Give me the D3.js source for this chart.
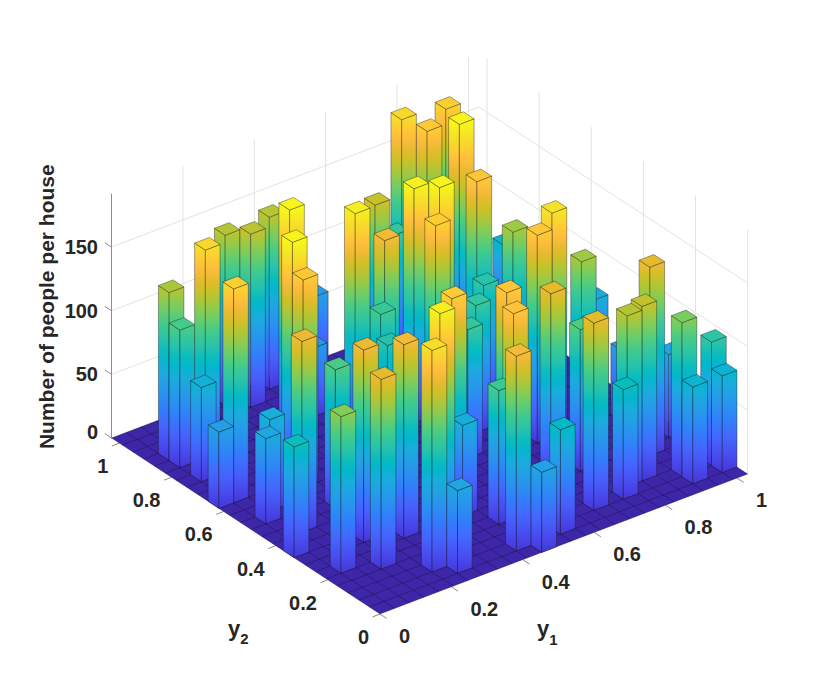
<!DOCTYPE html>
<html>
<head>
<meta charset="utf-8">
<script src="https://cdn.jsdelivr.net/npm/d3@7"></script>
<style>
  body { margin: 0; background: #fff; }
  text { font-family: "Liberation Sans", Arial, Helvetica, sans-serif; font-weight: bold; fill: #262626; }
</style>
</head>
<body>
<script>
// houses on a 25 x 25 grid: cell index along y1, cell index along y2, people in the house
var cellY1 = [1, 1, 1, 0, 2, 7, 8, 10, 1, 7, 5, 5, 2, 13, 10, 2, 1, 0,
              5, 1, 4, 3, 10, 6, 5, 7, 10, 11, 6, 11, 13, 12, 10, 10, 16, 14,
              20, 18, 19, 21, 16, 13, 11, 16, 18, 19, 20, 22, 22, 24, 22, 24, 24, 18, 23, 18, 24, 23,
              19, 20, 22, 20, 19, 14, 15, 10, 15, 12, 14, 17];
var cellY2 = [21, 20, 18, 15, 19, 24, 23, 24, 15, 18, 15, 14, 10, 24, 20, 13, 12, 8,
              11, 5, 7, 4, 13, 6, 2, 4, 7, 15, 1, 4, 6, 4, 1, 6, 13, 11,
              15, 10, 10, 10, 6, 1, 0, 2, 6, 3, 3, 5, 2, 2, 1, 1, 6, 2, 20, 15, 13, 9,
              24, 23, 24, 20, 17, 16, 15, 16, 21, 16, 14, 22];
var people = [132, 108, 74, 60, 172, 134, 136, 135, 168, 187, 187, 163, 150, 59, 54, 72, 67, 87,
              109, 123, 151, 149, 95, 152, 174, 183, 165, 104, 65, 105, 162, 161, 153, 71, 100, 101,
              129, 163, 176, 129, 148, 82, 63, 147, 111, 134, 137, 148, 121, 97, 76, 76, 65, 86, 78, 96, 69, 56,
              172, 164, 167, 186, 162, 184, 186, 182, 139, 152, 166, 101];

var y1Ticks = [0, 0.2, 0.4, 0.6, 0.8, 1];
var y2Ticks = [0, 0.2, 0.4, 0.6, 0.8, 1];
var zTicks = [0, 50, 100, 150];
var tickFormat = d3.format("~g");

var gridN = 25, gridMax = 1.03, zMax = 192, cMax = 190;

// parula colormap (64 entries)
var parula = [
[0.2422,0.1504,0.6603],[0.2504,0.1650,0.7076],[0.2578,0.1818,0.7511],[0.2647,0.1978,0.7952],
[0.2706,0.2147,0.8364],[0.2751,0.2342,0.8710],[0.2783,0.2559,0.8991],[0.2803,0.2782,0.9221],
[0.2813,0.3006,0.9414],[0.2810,0.3228,0.9579],[0.2795,0.3447,0.9717],[0.2760,0.3667,0.9829],
[0.2699,0.3892,0.9906],[0.2602,0.4123,0.9952],[0.2440,0.4358,0.9988],[0.2206,0.4603,0.9973],
[0.1963,0.4847,0.9892],[0.1834,0.5074,0.9798],[0.1786,0.5289,0.9682],[0.1764,0.5499,0.9520],
[0.1687,0.5703,0.9359],[0.1540,0.5902,0.9218],[0.1460,0.6091,0.9079],[0.1380,0.6276,0.8973],
[0.1248,0.6459,0.8883],[0.1113,0.6635,0.8763],[0.0952,0.6798,0.8598],[0.0689,0.6948,0.8394],
[0.0297,0.7082,0.8163],[0.0036,0.7203,0.7917],[0.0067,0.7312,0.7660],[0.0433,0.7411,0.7394],
[0.0964,0.7500,0.7120],[0.1408,0.7584,0.6842],[0.1717,0.7670,0.6554],[0.1938,0.7758,0.6251],
[0.2161,0.7843,0.5923],[0.2470,0.7918,0.5567],[0.2906,0.7973,0.5188],[0.3406,0.8008,0.4789],
[0.3909,0.8029,0.4354],[0.4456,0.8024,0.3909],[0.5044,0.7993,0.3480],[0.5616,0.7942,0.3045],
[0.6174,0.7876,0.2612],[0.6720,0.7793,0.2227],[0.7242,0.7698,0.1910],[0.7738,0.7598,0.1646],
[0.8203,0.7498,0.1535],[0.8634,0.7406,0.1596],[0.9035,0.7330,0.1774],[0.9393,0.7288,0.2100],
[0.9728,0.7298,0.2394],[0.9956,0.7434,0.2371],[0.9970,0.7659,0.2199],[0.9952,0.7893,0.2028],
[0.9892,0.8136,0.1885],[0.9786,0.8386,0.1766],[0.9676,0.8639,0.1643],[0.9610,0.8890,0.1537],
[0.9597,0.9135,0.1423],[0.9628,0.9373,0.1265],[0.9691,0.9606,0.1064],[0.9769,0.9839,0.0805]];
var parulaScale = d3.scaleLinear()
  .domain(parula.map(function(d, i) { return i / (parula.length - 1); }))
  .range(parula.map(function(c) { return d3.rgb(c[0]*255, c[1]*255, c[2]*255); }))
  .interpolate(d3.interpolateRgb)
  .clamp(true);
var zColor = d3.scaleLinear().domain([0, cMax]).range([0.06, 1]).clamp(true);

var width = 830, height = 692;
var svg = d3.select("body").append("svg")
  .attr("width", width)
  .attr("height", height);
svg.append("rect").attr("width", width).attr("height", height).attr("fill", "#fff");
var defs = svg.append("defs");

// projection of the 3-D box onto the page
var origin = [380, 614], ax1 = [367.7, -140], ax2 = [-268.5, -176];
var s1 = d3.scaleLinear().domain([0, gridMax]).range([0, 1]);
var s2 = d3.scaleLinear().domain([0, gridMax]).range([0, 1]);
var sz = d3.scaleLinear().domain([0, zMax]).range([0, 244.4]);
function proj(a, b, z) {
  var u = s1(a), v = s2(b);
  return [origin[0] + u * ax1[0] + v * ax2[0], origin[1] + u * ax1[1] + v * ax2[1] - sz(z)];
}
function pts(list) { return list.map(function(p) { return p.join(","); }).join(" "); }
var line = d3.line();

var gm = gridMax;
var gridColor = "#e2e2e2", axisColor = "#8c8c8c";

// back wall grid
var walls = svg.append("g");
zTicks.forEach(function(z) {
  if (z === 0) return;
  walls.append("path")
    .attr("d", line([proj(0, gm, z), proj(gm, gm, z), proj(gm, 0, z)]))
    .attr("fill", "none").attr("stroke", gridColor).attr("stroke-width", 1);
});
y1Ticks.forEach(function(v) {
  walls.append("path").attr("d", line([proj(v, gm, 0), proj(v, gm, zMax)]))
    .attr("stroke", gridColor).attr("stroke-width", 1);
});
y2Ticks.forEach(function(v) {
  walls.append("path").attr("d", line([proj(gm, v, 0), proj(gm, v, zMax)]))
    .attr("stroke", gridColor).attr("stroke-width", 1);
});

// z axis
var axisG = svg.append("g");
axisG.append("path").attr("d", line([proj(0, gm, 0), proj(0, gm, zMax)]))
  .attr("stroke", axisColor).attr("stroke-width", 1);
zTicks.forEach(function(z) {
  var p = proj(0, gm, z);
  axisG.append("path").attr("d", line([p, [p[0] - 6.7, p[1] - 4.4]]))
    .attr("stroke", axisColor).attr("stroke-width", 1);
  axisG.append("text")
    .attr("x", p[0] - 13.5)
    .attr("y", p[1] + (z === 0 ? 0.5 : 7))
    .attr("text-anchor", "end")
    .attr("font-size", 20)
    .text(tickFormat(z));
});

// y2 axis (front-left edge)
y2Ticks.forEach(function(v) {
  var p = proj(0, v, 0);
  axisG.append("path").attr("d", line([p, [p[0] - 7.5, p[1] + 2.9]]))
    .attr("stroke", axisColor).attr("stroke-width", 1);
  axisG.append("text")
    .attr("x", p[0] - 11).attr("y", p[1] + 30)
    .attr("text-anchor", "end").attr("font-size", 20)
    .text(tickFormat(v));
});
// y1 axis (front-right edge)
y1Ticks.forEach(function(v) {
  var p = proj(v, 0, 0);
  axisG.append("path").attr("d", line([p, [p[0] + 6.7, p[1] + 4.4]]))
    .attr("stroke", axisColor).attr("stroke-width", 1);
  axisG.append("text")
    .attr("x", p[0] + 19).attr("y", p[1] + 29)
    .attr("text-anchor", "start").attr("font-size", 20)
    .text(tickFormat(v));
});

// floor
var floorG = svg.append("g");
floorG.append("polygon")
  .attr("points", pts([proj(0, 0, 0), proj(gm, 0, 0), proj(gm, gm, 0), proj(0, gm, 0)]))
  .attr("fill", parulaScale(0));
var cell = gm / gridN;
d3.range(gridN + 1).forEach(function(k) {
  floorG.append("path").attr("d", line([proj(k * cell, 0, 0), proj(k * cell, gm, 0)]))
    .attr("stroke", "rgba(0,0,0,0.38)").attr("stroke-width", 0.7);
  floorG.append("path").attr("d", line([proj(0, k * cell, 0), proj(gm, k * cell, 0)]))
    .attr("stroke", "rgba(0,0,0,0.38)").attr("stroke-width", 0.7);
});

// bars, back to front
var houses = people.map(function(p, k) { return { i: cellY1[k], j: cellY2[k], z: p, k: k }; });
houses.sort(function(a, b) { return (b.i + b.j) - (a.i + a.j); });

var stopsT = d3.range(0, 1.0001, 1 / 24);
var barG = svg.append("g");
houses.forEach(function(h) {
  var a0 = h.i * cell, a1 = (h.i + 1) * cell, b0 = h.j * cell, b1 = (h.j + 1) * cell;
  var base = proj(a0, b0, 0), topRef = proj(a0, b0, cMax);
  var gid = "g" + h.k;
  var grad = defs.append("linearGradient").attr("id", gid)
    .attr("gradientUnits", "userSpaceOnUse")
    .attr("x1", 0).attr("x2", 0).attr("y1", base[1]).attr("y2", topRef[1]);
  stopsT.forEach(function(t) {
    grad.append("stop").attr("offset", t).attr("stop-color", parulaScale(zColor(t * cMax)));
  });
  var edge = "rgba(20,20,20,0.55)";
  // face toward -y1 (left)
  barG.append("polygon")
    .attr("points", pts([proj(a0, b0, 0), proj(a0, b1, 0), proj(a0, b1, h.z), proj(a0, b0, h.z)]))
    .attr("fill", "url(#" + gid + ")").attr("stroke", edge).attr("stroke-width", 0.7)
    .attr("stroke-linejoin", "round");
  // face toward -y2 (right)
  barG.append("polygon")
    .attr("points", pts([proj(a0, b0, 0), proj(a1, b0, 0), proj(a1, b0, h.z), proj(a0, b0, h.z)]))
    .attr("fill", "url(#" + gid + ")").attr("stroke", edge).attr("stroke-width", 0.7)
    .attr("stroke-linejoin", "round");
  // top
  barG.append("polygon")
    .attr("points", pts([proj(a0, b0, h.z), proj(a1, b0, h.z), proj(a1, b1, h.z), proj(a0, b1, h.z)]))
    .attr("fill", parulaScale(zColor(h.z))).attr("stroke", edge).attr("stroke-width", 0.7)
    .attr("stroke-linejoin", "round");
});

// axis titles
svg.append("text")
  .attr("transform", "translate(54,306.7) rotate(-90)")
  .attr("text-anchor", "middle")
  .attr("font-size", 21)
  .text("Number of people per house");

var t2 = svg.append("text").attr("x", 228).attr("y", 636).attr("font-size", 22);
t2.append("tspan").text("y");
t2.append("tspan").attr("font-size", 15).attr("dy", 8).text("2");
var t1 = svg.append("text").attr("x", 537).attr("y", 636).attr("font-size", 22);
t1.append("tspan").text("y");
t1.append("tspan").attr("font-size", 15).attr("dy", 9).text("1");
</script>
</body>
</html>
